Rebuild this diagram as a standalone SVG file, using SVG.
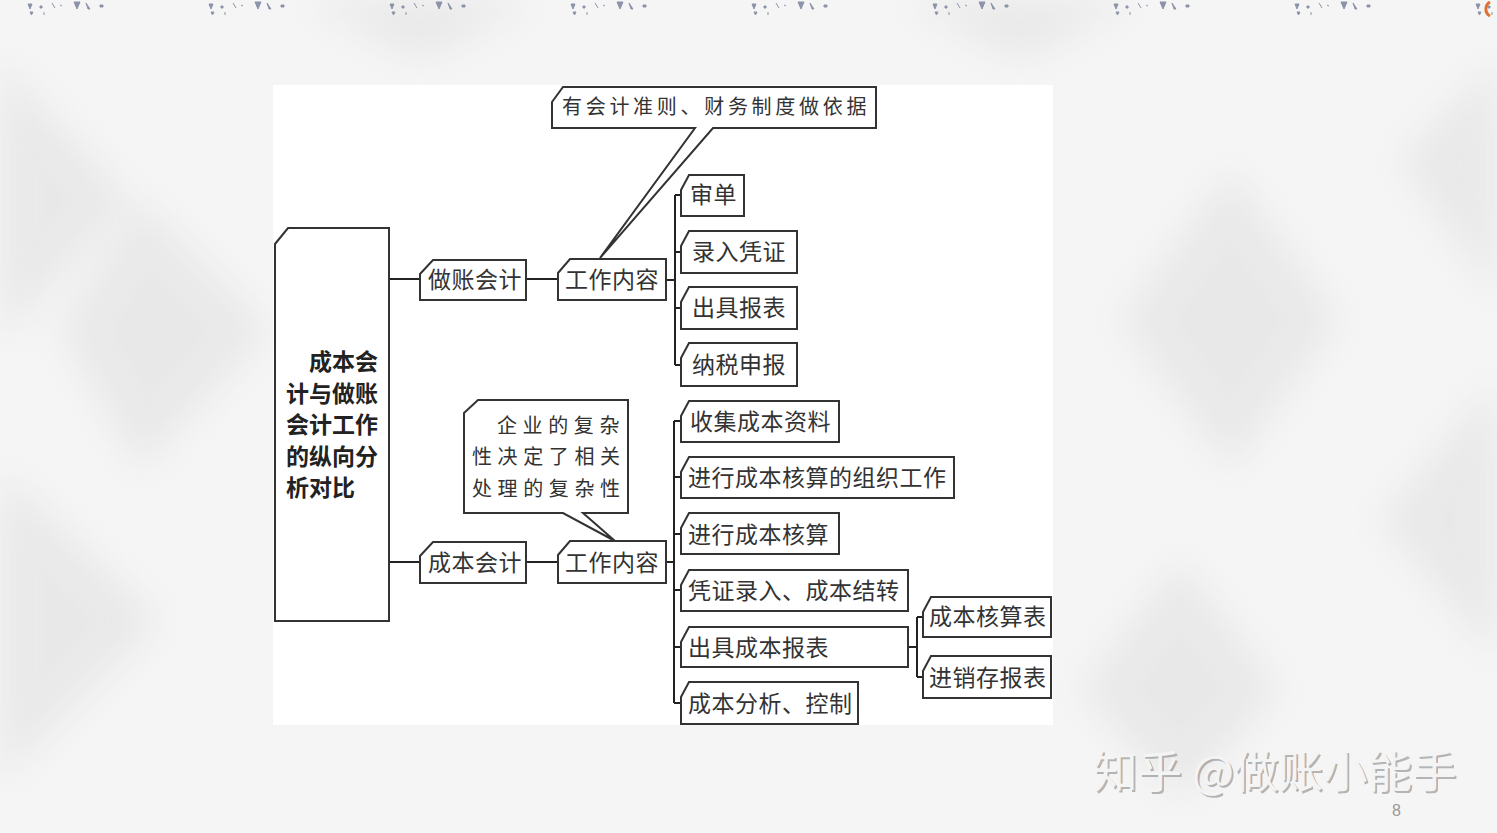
<svg xmlns="http://www.w3.org/2000/svg" width="1497" height="833" viewBox="0 0 1497 833">
<defs>
<style>
.box{fill:#fff;stroke:#333;stroke-width:2}
.t{font-family:"Liberation Serif","Noto Sans CJK SC",serif;font-size:23px;fill:#333;letter-spacing:0.5px}
.tc{font-family:"Liberation Serif","Noto Sans CJK SC",serif;font-size:20px;fill:#333}
.root{font-family:"Liberation Sans","Noto Sans CJK SC",sans-serif;font-size:23px;font-weight:bold;fill:#222}
.ln{fill:none;stroke:#222;stroke-width:2}
.bg{fill:#e6e6e6}
</style>
<filter id="blur" x="-20%" y="-20%" width="140%" height="140%"><feGaussianBlur stdDeviation="18"/></filter>
<pattern id="strip" x="0" y="0" width="181" height="16" patternUnits="userSpaceOnUse">
<path d="M28 4 l4 0 -2 5z M40 6 h2 v2 h-2z M52 3 l3 5 M60 5 l2 1 M74 2 l6 0 -3 7z M86 3 l4 6 -2 0z M100 5 h3 v2 h-3z M30 12 l3 0 -1.5 3z M44 12 v3" fill="#8a93a8" stroke="#8a93a8" stroke-width="1"/>
</pattern>
</defs>
<rect width="1497" height="833" fill="#f5f5f5"/>
<g filter="url(#blur)" opacity="0.8">
<polygon class="bg" points="0,60 130,200 0,340"/>
<polygon class="bg" points="140,200 270,330 140,470 60,330"/>
<polygon class="bg" points="0,470 160,620 0,780"/>
<polygon class="bg" points="1497,60 1400,160 1497,300"/>
<polygon class="bg" points="1230,170 1340,320 1230,470 1120,320"/>
<polygon class="bg" points="1497,380 1380,520 1497,660"/>
<polygon class="bg" points="1180,560 1280,690 1180,800 1080,690"/>
<polygon class="bg" points="300,0 420,60 540,0"/>
<polygon class="bg" points="900,0 1020,60 1140,0"/>
</g>
<rect x="0" y="0" width="1497" height="16" fill="url(#strip)"/>
<path d="M1490 2 a8 8 0 0 0 0 14" fill="none" stroke="#e07030" stroke-width="3"/>
<rect x="273" y="85" width="780" height="640" fill="#fff"/>

<g id="connectors">
<path class="ln" d="M389 279 H420 M526 279 H558 M666 280 H675 M675 195 V365 M675 195 H681 M675 252 H681 M675 308 H681 M675 365 H681"/>
<path class="ln" d="M389 562 H420 M526 562 H558 M666 562 H674 M674 421 V703 M674 421 H681 M674 477 H681 M674 534 H681 M674 590 H681 M674 647 H681 M674 703 H681 M908 647 H917 M917 617 V677 M917 617 H923 M917 677 H923"/>
</g>

<g id="root">
<path class="box" d="M275 244 L288 228 H389 V621 H275 Z"/>
<text class="root" x="309" y="370">成本会</text>
<text class="root" x="286" y="402">计与做账</text>
<text class="root" x="286" y="433">会计工作</text>
<text class="root" x="286" y="465">的纵向分</text>
<text class="root" x="286" y="496">析对比</text>
</g>

<g id="zuozhang">
<path class="box" d="M420 274 L433 260 H526 V300 H420 Z"/>
<text class="t" x="428" y="288">做账会计</text>
</g>
<g id="work1">
<path class="box" d="M558 273 L570 259 H666 V300 H558 Z"/>
<text class="t" x="565" y="288">工作内容</text>
</g>
<g id="note1">
<path class="box" d="M552 102 L563 87 H876 V128 H713 L600 258 L695 128 H552 Z"/>
<text class="tc" x="562" y="114" style="letter-spacing:3.7px">有会计准则、财务制度做依据</text>
</g>
<g id="shendan">
<path class="box" d="M681 190 L689 175 H744 V216 H681 Z"/>
<text class="t" x="690" y="203">审单</text>
</g>
<g id="luru">
<path class="box" d="M681 246 L689 231 H797 V273 H681 Z"/>
<text class="t" x="692" y="260">录入凭证</text>
</g>
<g id="chuju">
<path class="box" d="M681 302 L689 287 H797 V329 H681 Z"/>
<text class="t" x="692" y="316">出具报表</text>
</g>
<g id="nashui">
<path class="box" d="M681 358 L689 343 H797 V386 H681 Z"/>
<text class="t" x="692" y="373">纳税申报</text>
</g>

<g id="chengben">
<path class="box" d="M420 556 L433 542 H526 V583 H420 Z"/>
<text class="t" x="428" y="571">成本会计</text>
</g>
<g id="work2">
<path class="box" d="M558 555 L570 541 H666 V583 H558 Z"/>
<text class="t" x="565" y="571">工作内容</text>
</g>
<g id="note2">
<path class="box" d="M464 413 L478 400 H628 V513 H583 L615 541 L563 513 H464 Z"/>
<text class="tc" x="497" y="433" style="letter-spacing:5.6px">企业的复杂</text>
<text class="tc" x="472" y="464" style="letter-spacing:5.6px">性决定了相关</text>
<text class="tc" x="472" y="496" style="letter-spacing:5.6px">处理的复杂性</text>
</g>
<g id="c1">
<path class="box" d="M681 416 L689 401 H839 V442 H681 Z"/>
<text class="t" x="690" y="430">收集成本资料</text>
</g>
<g id="c2">
<path class="box" d="M681 472 L689 457 H954 V498 H681 Z"/>
<text class="t" x="688" y="486">进行成本核算的组织工作</text>
</g>
<g id="c3">
<path class="box" d="M681 528 L689 513 H839 V554 H681 Z"/>
<text class="t" x="688" y="543">进行成本核算</text>
</g>
<g id="c4">
<path class="box" d="M681 585 L689 570 H908 V611 H681 Z"/>
<text class="t" x="688" y="599">凭证录入、成本结转</text>
</g>
<g id="c5">
<path class="box" d="M681 642 L689 627 H908 V667 H681 Z"/>
<text class="t" x="688" y="656">出具成本报表</text>
</g>
<g id="c6">
<path class="box" d="M681 697 L689 682 H858 V724 H681 Z"/>
<text class="t" x="688" y="712">成本分析、控制</text>
</g>
<g id="d1">
<path class="box" d="M923 612 L931 597 H1051 V637 H923 Z"/>
<text class="t" x="929" y="625">成本核算表</text>
</g>
<g id="d2">
<path class="box" d="M923 671 L931 656 H1051 V698 H923 Z"/>
<text class="t" x="929" y="686">进销存报表</text>
</g>

<text x="1095" y="790" font-family="'Noto Sans CJK SC',sans-serif" font-size="44.5" fill="#999" opacity="0.7">知乎 @做账小能手</text>
<text x="1093" y="788" font-family="'Noto Sans CJK SC',sans-serif" font-size="44.5" fill="#f4f4f4">知乎 @做账小能手</text>
<text x="1392" y="816" font-family="'Liberation Sans',sans-serif" font-size="16" fill="#999">8</text>
</svg>
